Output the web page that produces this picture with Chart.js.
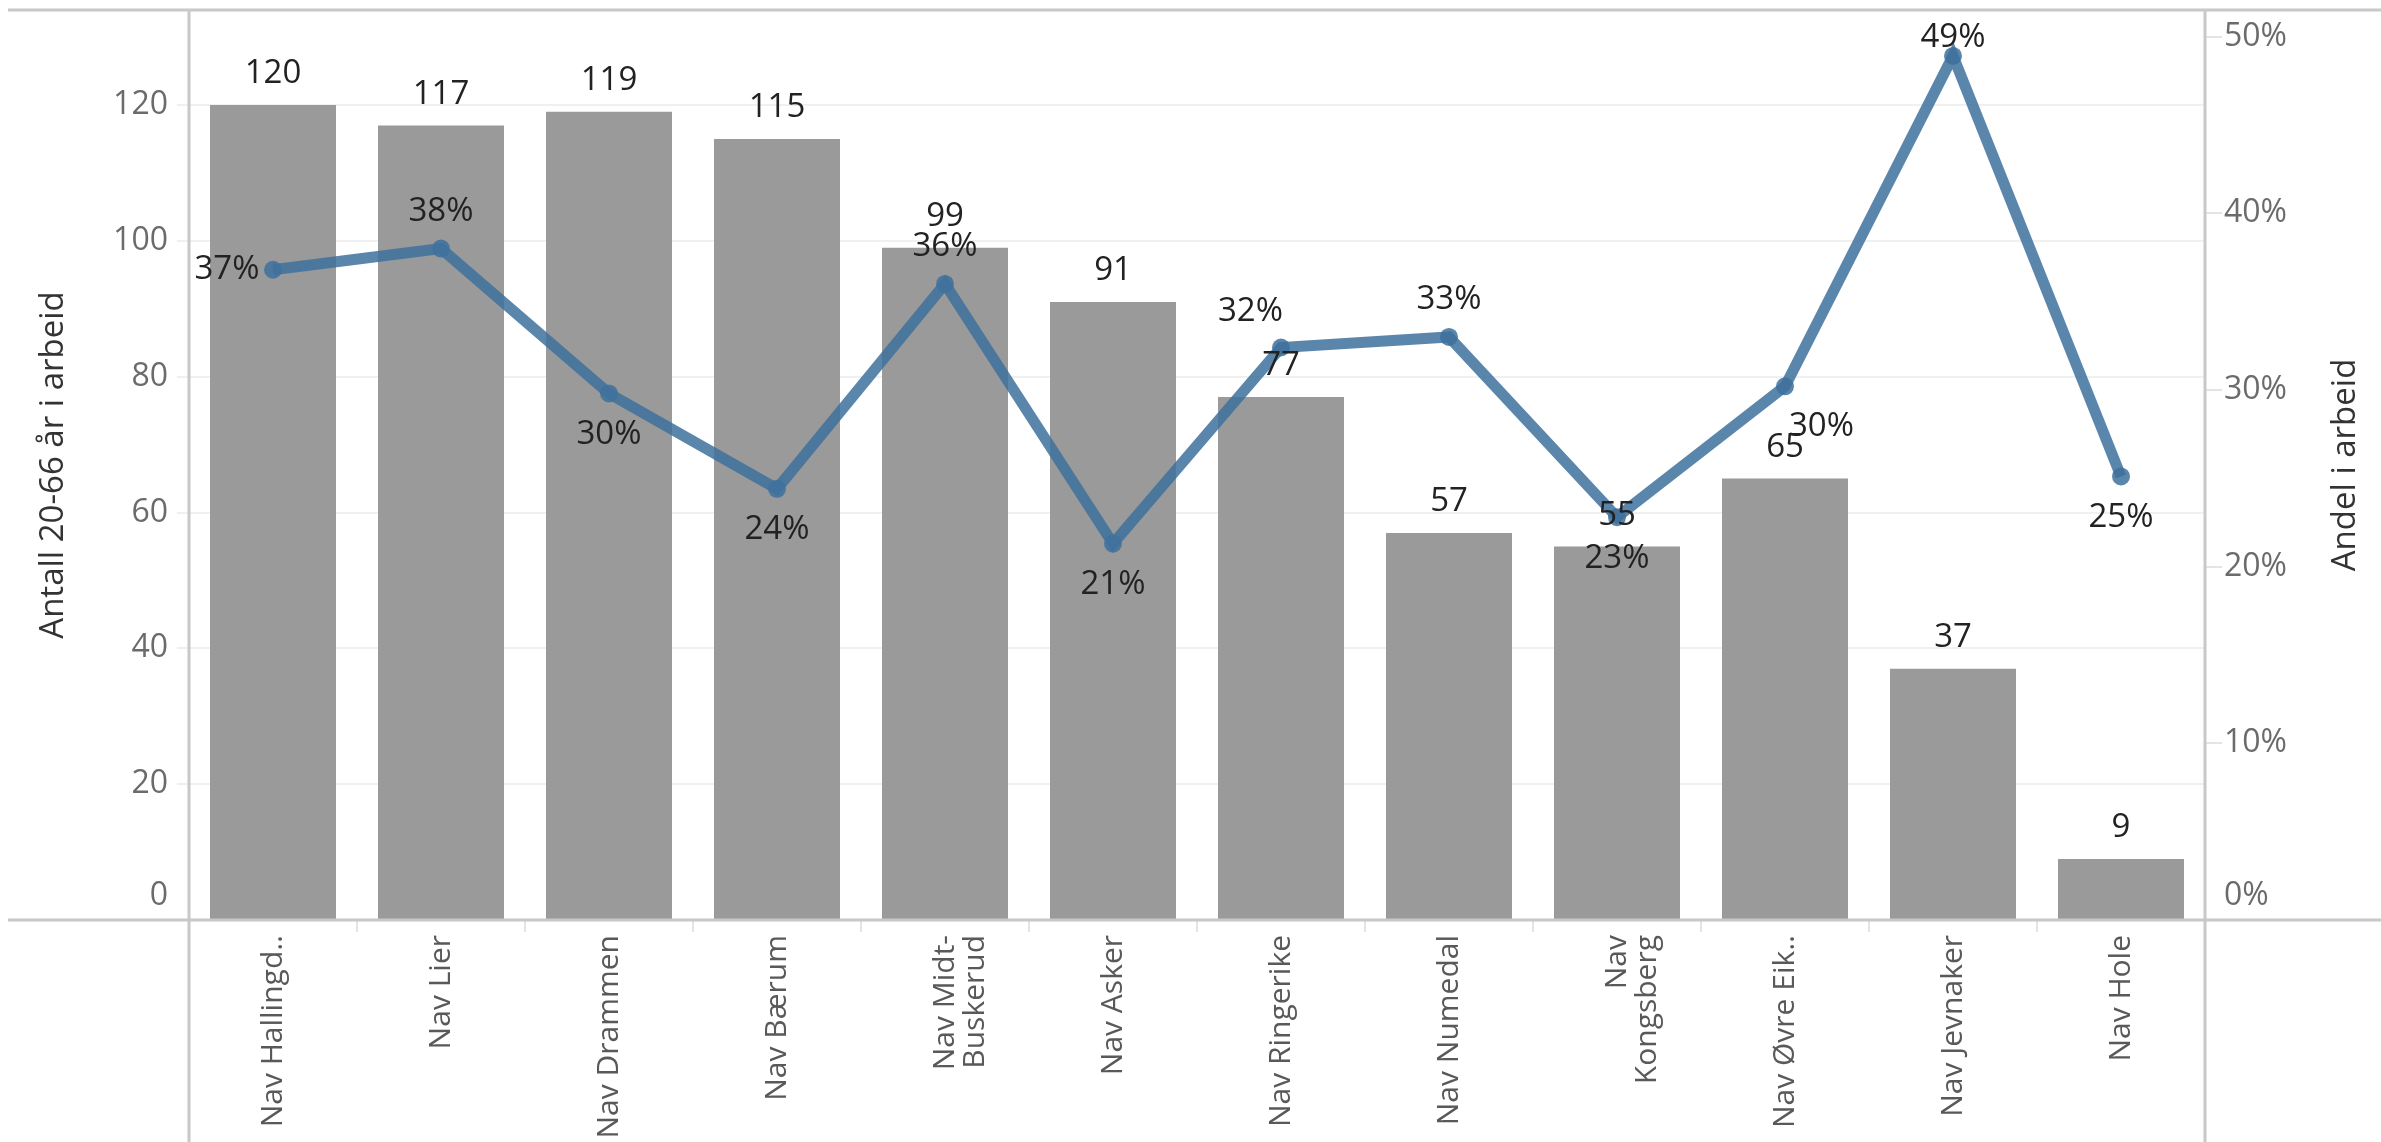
<!DOCTYPE html>
<html>
<head>
<meta charset="utf-8">
<script src="https://cdn.jsdelivr.net/npm/chart.js@4.4.1/dist/chart.umd.min.js"></script>
<style>
html,body{margin:0;padding:0;background:#fff;overflow:hidden}
#wrap{width:2381px;height:1142px;position:relative}
</style>
</head>
<body>
<div id="wrap"><canvas id="c" width="2381" height="1142"></canvas></div>
<script>
// ---- data ----
const categories = [
  'Nav Hallingd..', 'Nav Lier', 'Nav Drammen', 'Nav Bærum', ['Nav Midt-', 'Buskerud'],
  'Nav Asker', 'Nav Ringerike', 'Nav Numedal', ['Nav', 'Kongsberg'], 'Nav Øvre Eik..',
  'Nav Jevnaker', 'Nav Hole'
];
const countValues = [120, 117, 119, 115, 99, 91, 77, 57, 55, 65, 37, 9];
const shareValues = [36.8, 38.0, 29.8, 24.4, 36.0, 21.3, 32.4, 33.0, 22.8, 30.2, 48.9, 25.1];
const leftTickValues = [0, 20, 40, 60, 80, 100, 120];
const rightTickValues = [0, 10, 20, 30, 40, 50];
const leftAxisTitle = 'Antall 20-66 år i arbeid';
const rightAxisTitle = 'Andel i arbeid';

// label placement for the share line (style only)
const shareLabelPlacement = ['left', 'above', 'below', 'below', 'above', 'below',
  'aboveLeft', 'above', 'below', 'belowRight', 'above', 'below'];

const FONT = '"Open Sans", "Liberation Sans", sans-serif';
Chart.defaults.font.family = FONT;

const framePlugin = {
  id: 'frame',
  afterDraw(chart) {
    const ctx = chart.ctx;
    const a = chart.chartArea;
    const W = chart.width, H = chart.height;
    ctx.save();
    ctx.strokeStyle = '#c8c8c8';
    ctx.lineWidth = 3;
    ctx.beginPath();
    ctx.moveTo(8, a.top); ctx.lineTo(W, a.top);
    ctx.moveTo(8, a.bottom); ctx.lineTo(W, a.bottom);
    ctx.moveTo(a.left, a.top); ctx.lineTo(a.left, H);
    ctx.moveTo(a.right, a.top); ctx.lineTo(a.right, H);
    ctx.stroke();

    // zero labels sit just above the baseline (kept inside the plot)
    const ys = chart.scales.y, yr = chart.scales.y2;
    ctx.font = '32px ' + FONT;
    ctx.fillStyle = '#6b6b6b';
    ctx.textBaseline = 'middle';
    ctx.textAlign = 'right';
    ctx.fillText(String(leftTickValues[0]), ys.right - 12 - 9, ys.getPixelForValue(leftTickValues[0]) - 24);
    ctx.textAlign = 'left';
    ctx.fillText(rightTickValues[0] + '%', yr.left + 17 + 2, yr.getPixelForValue(rightTickValues[0]) - 24);

    // right axis title, reading bottom to top
    ctx.fillStyle = '#333';
    ctx.font = '33px ' + FONT;
    ctx.textAlign = 'center';
    ctx.textBaseline = 'middle';
    ctx.translate(2346, (a.top + a.bottom) / 2);
    ctx.rotate(-Math.PI / 2);
    ctx.fillText(rightAxisTitle, 0, 0);
    ctx.restore();
  }
};

const labelPlugin = {
  id: 'valueLabels',
  afterDatasetsDraw(chart) {
    const ctx = chart.ctx;
    ctx.save();
    ctx.font = '33px ' + FONT;
    ctx.fillStyle = '#222';
    ctx.textBaseline = 'middle';
    const barMeta = chart.getDatasetMeta(0);
    barMeta.data.forEach((el, i) => {
      ctx.textAlign = 'center';
      ctx.fillText(String(countValues[i]), el.x, el.y - 31);
    });
    const lineMeta = chart.getDatasetMeta(1);
    lineMeta.data.forEach((el, i) => {
      const txt = Math.round(shareValues[i]) + '%';
      let x = el.x, y = el.y;
      ctx.textAlign = 'center';
      switch (shareLabelPlacement[i]) {
        case 'above': y -= 37; break;
        case 'below': y += 41; break;
        case 'left': x -= 46; break;
        case 'aboveLeft': ctx.textAlign = 'right'; x += 2; y -= 36; break;
        case 'belowRight': ctx.textAlign = 'left'; x += 4; y += 40; break;
      }
      y = Math.max(y, chart.chartArea.top + 28);
      ctx.fillText(txt, x, y);
    });
    ctx.restore();
  }
};

function noPad(s) {
  s.paddingTop = 0; s.paddingBottom = 0;
}

new Chart(document.getElementById('c'), {
  data: {
    labels: categories,
    datasets: [
      {
        type: 'bar',
        label: leftAxisTitle,
        data: countValues,
        backgroundColor: '#9a9a9a',
        barPercentage: 0.75,
        categoryPercentage: 1.0,
        yAxisID: 'y',
        order: 2
      },
      {
        type: 'line',
        label: rightAxisTitle,
        data: shareValues,
        borderColor: 'rgba(62,113,158,0.85)',
        backgroundColor: 'rgba(62,113,158,0.85)',
        borderWidth: 11,
        pointRadius: 9,
        pointBorderWidth: 0,
        tension: 0,
        yAxisID: 'y2',
        order: 1
      }
    ]
  },
  options: {
    responsive: false,
    devicePixelRatio: 1,
    animation: false,
    layout: { padding: { top: 10, left: 0, right: 0, bottom: 0 } },
    plugins: { legend: { display: false }, tooltip: { enabled: false } },
    scales: {
      x: {
        offset: true,
        grid: { display: true, offset: true, drawOnChartArea: false, tickLength: 12, color: '#e4e4e4', lineWidth: 2 },
        border: { display: false },
        ticks: {
          autoSkip: false, minRotation: 90, maxRotation: 90, padding: 3,
          color: '#595959', font: { size: 30, lineHeight: 1.0 }
        },
        afterFit(s) { s.height = 222; s.paddingLeft = 0; s.paddingRight = 0; }
      },
      y: {
        position: 'left',
        min: 0, max: 134,
        z: 1,
        afterBuildTicks(s) { s.ticks = leftTickValues.map(v => ({ value: v })); },
        grid: { color: 'rgba(0,0,0,0.06)', lineWidth: 2, tickLength: 12 },
        border: { display: false },
        ticks: { color: '#6b6b6b', padding: 9, font: { size: 32 }, callback: v => (v === 0 ? '' : String(v)) },
        title: { display: true, text: leftAxisTitle, color: '#333', font: { size: 33 }, padding: { top: 34, bottom: 0 } },
        afterFit(s) { s.width = 189; noPad(s); }
      },
      y2: {
        position: 'right',
        min: 0, max: 51.5,
        afterBuildTicks(s) { s.ticks = rightTickValues.map(v => ({ value: v })); },
        grid: { drawOnChartArea: false, color: '#e4e4e4', lineWidth: 2, tickLength: 17 },
        border: { display: false },
        ticks: { color: '#6b6b6b', padding: 2, font: { size: 32 }, callback: v => (v === 0 ? '' : v + '%') },
        afterFit(s) { s.width = 176; noPad(s); }
      }
    }
  },
  plugins: [labelPlugin, framePlugin]
});
</script>
</body>
</html>
